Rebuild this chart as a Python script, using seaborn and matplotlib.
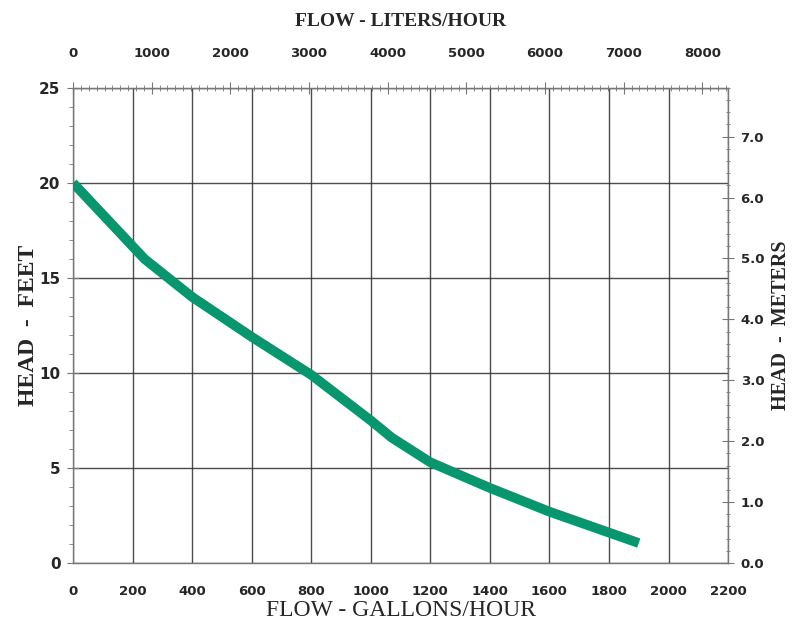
import matplotlib
matplotlib.use("Agg")
import matplotlib.pyplot as plt
import seaborn as sns
import numpy as np
import pandas as pd
from matplotlib.ticker import MultipleLocator

# pump curve
flow_gph = [0, 240, 400, 600, 800, 1000, 1070, 1200, 1400, 1600, 1800, 1900]
head_ft = [20.0, 16.0, 14.0, 11.9, 9.9, 7.5, 6.6, 5.3, 3.95, 2.7, 1.6, 1.05]

gal_ticks = [0, 200, 400, 600, 800, 1000, 1200, 1400, 1600, 1800, 2000, 2200]
ft_ticks = [0, 5, 10, 15, 20, 25]
liter_ticks = [0, 1000, 2000, 3000, 4000, 5000, 6000, 7000, 8000]
meter_ticks = [0.0, 1.0, 2.0, 3.0, 4.0, 5.0, 6.0, 7.0]

L_PER_GAL = 3.785

sns.set_style("white")
plt.rcParams['font.family'] = ['DejaVu Sans']

df = pd.DataFrame({"flow": flow_gph, "head": head_ft})

fig = plt.figure(figsize=(7.94, 6.28), dpi=100)
ax = fig.add_axes([0.092, 0.1035, 0.825, 0.7565])

sns.lineplot(data=df, x="flow", y="head", ax=ax, color="#08966f", lw=7,
             solid_capstyle="butt", zorder=3)

ax.set_xlim(0, 2200)
ax.set_ylim(0, 25)
ax.set_xticks(gal_ticks)
ax.set_yticks(ft_ticks)
ax.xaxis.set_minor_locator(MultipleLocator(40))
ax.yaxis.set_minor_locator(MultipleLocator(1))
ax.grid(True, which="major", color="#2e2e2e", lw=1.0, alpha=0.85)
ax.set_axisbelow(True)

spine_c = "#777777"
for s in ax.spines.values():
    s.set_color(spine_c)
    s.set_linewidth(1.0)

tick_font = dict(fontweight="bold")
ax.set_xticklabels([str(v) for v in gal_ticks], fontsize=9.5, **tick_font)
ax.set_yticklabels([str(v) for v in ft_ticks], fontsize=11, **tick_font)
ax.tick_params(axis="x", which="major", direction="out", length=4, pad=12, color=spine_c)
ax.tick_params(axis="x", which="minor", direction="out", length=3, color=spine_c)
ax.tick_params(axis="y", which="major", direction="inout", length=8, pad=5, color=spine_c)
ax.tick_params(axis="y", which="minor", direction="out", length=3, color=spine_c)

ax.set_xlabel("FLOW - GALLONS/HOUR", family="Liberation Serif", fontsize=17,
              labelpad=1)
ax.set_ylabel("HEAD  -  FEET", family="Liberation Serif", fontsize=17,
              fontweight="bold", labelpad=0)

# top axis: liters per hour
top = ax.secondary_xaxis("top", functions=(lambda g: g * L_PER_GAL,
                                           lambda l: l / L_PER_GAL))
top.set_xticks(liter_ticks)
top.set_xticklabels([str(v) for v in liter_ticks], fontsize=9.5, **tick_font)
top.xaxis.set_minor_locator(MultipleLocator(100))
top.tick_params(axis="x", which="major", direction="inout", length=8, pad=16, color=spine_c)
top.tick_params(axis="x", which="minor", direction="inout", length=4, color=spine_c)
top.spines["top"].set_color(spine_c)
top.set_xlabel("FLOW - LITERS/HOUR", family="Liberation Serif", fontsize=14,
               fontweight="bold", labelpad=15)

# right axis: meters
right = ax.twinx()
right.set_ylim(0, 7.8)
right.set_yticks(meter_ticks)
right.set_yticklabels([f"{v:.1f}" for v in meter_ticks], fontsize=9.5, **tick_font)
right.yaxis.set_minor_locator(MultipleLocator(0.2))
right.tick_params(axis="y", which="major", direction="inout", length=8, pad=5, color=spine_c)
right.tick_params(axis="y", which="minor", direction="inout", length=3, color=spine_c)
right.grid(False)
for s in right.spines.values():
    s.set_visible(False)
right.set_ylabel("HEAD  -  METERS", family="Liberation Serif", fontsize=14.5,
                 fontweight="bold", rotation=90, labelpad=5)

fig.savefig("out.png", dpi=100, facecolor="white")
